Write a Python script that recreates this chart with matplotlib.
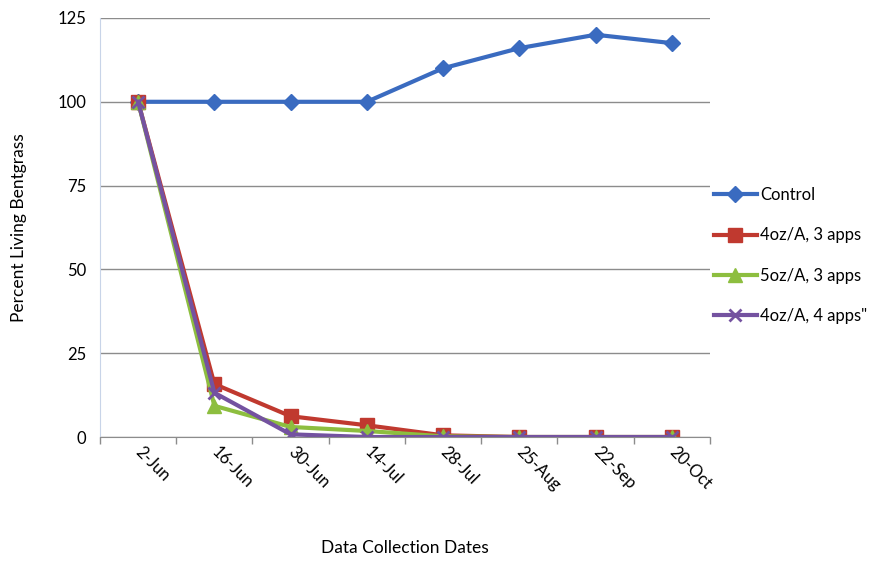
import matplotlib
matplotlib.use("Agg")
import matplotlib.pyplot as plt
import numpy as np

dates = ["2-Jun", "16-Jun", "30-Jun", "14-Jul", "28-Jul", "25-Aug", "22-Sep", "20-Oct"]
control = [100, 100, 100, 100, 110, 116, 120, 117.5]
oz4_3apps = [100, 15.8, 6.2, 3.5, 0.5, 0, 0, 0]
oz5_3apps = [100, 9.3, 3.0, 1.8, 0.2, 0, 0, 0]
oz4_4apps = [100, 13.2, 0.8, 0, 0, 0, 0, 0]
yticks = [0, 25, 50, 75, 100, 125]

plt.rcParams["font.family"] = ["Lato", "DejaVu Sans"]

fig = plt.figure(figsize=(8.93, 5.62), dpi=100)
ax = fig.add_axes([0.112, 0.2224, 0.683, 0.7456])

x = np.arange(len(dates))
series = [
    ("Control", control, "#3A6BC0", "D", 8),
    ("4oz/A, 3 apps", oz4_3apps, "#C0392F", "s", 10),
    ("5oz/A, 3 apps", oz5_3apps, "#8DBE3F", "^", 10),
    ("4oz/A, 4 apps\"", oz4_4apps, "#7452A0", "x", 9),
]
for name, vals, col, mk, ms in series:
    kw = dict(markeredgewidth=2) if mk == "x" else dict(markeredgecolor=col)
    ax.plot(x, vals, color=col, lw=3.0, marker=mk, markersize=ms,
            markerfacecolor=col, label=name, **kw)

ax.set_xlim(-0.5, len(dates) - 0.5)
ax.set_ylim(0, 125)
ax.set_yticks(yticks)
ax.yaxis.grid(True, color="#8C8C8C", lw=1)
ax.set_axisbelow(True)
ax.tick_params(axis="y", length=0, labelsize=12, pad=10)

ax.set_xticks(x)
ax.set_xticks(np.arange(-0.5, len(dates)), minor=True)
ax.tick_params(axis="x", which="major", length=0, pad=9)
ax.tick_params(axis="x", which="minor", length=5, color="#8C8C8C", width=1)
ax.set_xticklabels(dates, rotation=-45, ha="left", va="center",
                   rotation_mode="anchor", fontsize=12)

for s in ["top", "right"]:
    ax.spines[s].set_visible(False)
ax.spines["left"].set_color("#C8D4E8")
ax.spines["bottom"].set_color("#8C8C8C")

ax.set_ylabel("Percent Living Bentgrass", fontsize=12.5)
ax.yaxis.set_label_coords(-0.12, 0.5)
ax.set_xlabel("Data Collection Dates", fontsize=12.5)
ax.xaxis.set_label_coords(0.5, -0.245)

leg = ax.legend(loc="upper left", bbox_to_anchor=(0.995, 0.612), frameon=False,
                fontsize=12, handlelength=2.6, labelspacing=1.45, handletextpad=0.2,
                borderaxespad=0)

fig.savefig("out.png", dpi=100)
